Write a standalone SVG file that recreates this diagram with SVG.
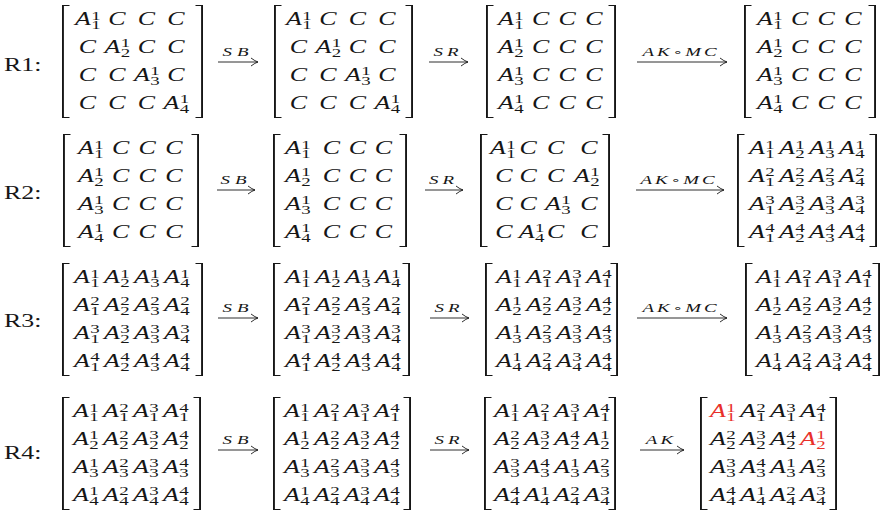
<svg xmlns="http://www.w3.org/2000/svg" width="883" height="519" viewBox="0 0 883 519">
<style>
text{font-family:"Liberation Serif","Times New Roman",serif;fill:#161616}
.m{font-size:18.5px;font-style:italic}
.s{font-size:13.5px;font-style:normal}
.lb{font-size:18.5px}
.op{font-size:13.5px;font-style:italic}
.ring{font-style:normal;font-family:"DejaVu Sans",sans-serif;font-size:11px}
.red{fill:#e8302a}
.ln{stroke:#161616;stroke-width:0.9;fill:none}
</style>
<defs>
<path id="lb" fill="#161616" d="M7.5,-20H0V93H7.5V92H1.9V-19H7.5Z"/>
<path id="rb" fill="#161616" d="M-7.5,-20H0V93H-7.5V92H-1.9V-19H-7.5Z"/>
<marker id="ah" viewBox="0 0 10 10" refX="9.6" refY="5" markerWidth="10" markerHeight="10" markerUnits="userSpaceOnUse" orient="auto"><path d="M2.6,1 Q6.8,4.2 9.6,5 Q6.8,5.8 2.6,9" fill="none" stroke="#161616" stroke-width="0.9"/></marker>
</defs>

<g id="label-r1"><text class="lb" transform="translate(4,71) scale(1.4,1)">R1:</text></g>
<g id="label-r2"><text class="lb" transform="translate(4,199) scale(1.4,1)">R2:</text></g>
<g id="label-r3"><text class="lb" transform="translate(4,327) scale(1.4,1)">R3:</text></g>
<g id="label-r4"><text class="lb" transform="translate(4,459) scale(1.4,1)">R4:</text></g>

<!-- R1 -->
<g id="r1m1" transform="translate(75,25)"><use href="#lb" x="-13"/><use href="#rb" x="128"/>
<g class="m" transform="scale(1.4,1)">
<text x="0 11.6 11.6 23.7 44.8 65.9" y="0 4 -5.5 0 0 0">A<tspan class="s">11</tspan>CCC</text>
<text x="2.6 21.1 32.7 32.7 44.8 65.9" y="28 28 32 22.5 28 28">CA<tspan class="s">21</tspan>CC</text>
<text x="2.6 23.7 42.1 53.7 53.7 65.9" y="56 56 56 60 50.5 56">CCA<tspan class="s">31</tspan>C</text>
<text x="2.6 23.7 44.8 63.2 74.8 74.8" y="84 84 84 84 88 78.5">CCCA<tspan class="s">41</tspan></text>
</g></g>
<g id="r1m2" transform="translate(286,25)"><use href="#lb" x="-12"/><use href="#rb" x="127"/>
<g class="m" transform="scale(1.4,1)">
<text x="0 11.6 11.6 23.7 44.8 65.9" y="0 4 -5.5 0 0 0">A<tspan class="s">11</tspan>CCC</text>
<text x="2.6 21.1 32.7 32.7 44.8 65.9" y="28 28 32 22.5 28 28">CA<tspan class="s">21</tspan>CC</text>
<text x="2.6 23.7 42.1 53.7 53.7 65.9" y="56 56 56 60 50.5 56">CCA<tspan class="s">31</tspan>C</text>
<text x="2.6 23.7 44.8 63.2 74.8 74.8" y="84 84 84 84 88 78.5">CCCA<tspan class="s">41</tspan></text>
</g></g>
<g id="r1m3" transform="translate(498,25)"><use href="#lb" x="-12"/><use href="#rb" x="118"/>
<g class="m" transform="scale(1.4,1)">
<text x="0 11.6 11.6 24.2 43.2 62.3" y="0 4 -5.5 0 0 0">A<tspan class="s">11</tspan>CCC</text>
<text x="0 11.6 11.6 24.2 43.2 62.3" y="28 32 22.5 28 28 28">A<tspan class="s">21</tspan>CCC</text>
<text x="0 11.6 11.6 24.2 43.2 62.3" y="56 60 50.5 56 56 56">A<tspan class="s">31</tspan>CCC</text>
<text x="0 11.6 11.6 24.2 43.2 62.3" y="84 88 78.5 84 84 84">A<tspan class="s">41</tspan>CCC</text>
</g></g>
<g id="r1m4" transform="translate(757,25)"><use href="#lb" x="-13"/><use href="#rb" x="119"/>
<g class="m" transform="scale(1.4,1)">
<text x="0 11.6 11.6 24.2 43.2 62.3" y="0 4 -5.5 0 0 0">A<tspan class="s">11</tspan>CCC</text>
<text x="0 11.6 11.6 24.2 43.2 62.3" y="28 32 22.5 28 28 28">A<tspan class="s">21</tspan>CCC</text>
<text x="0 11.6 11.6 24.2 43.2 62.3" y="56 60 50.5 56 56 56">A<tspan class="s">31</tspan>CCC</text>
<text x="0 11.6 11.6 24.2 43.2 62.3" y="84 88 78.5 84 84 84">A<tspan class="s">41</tspan>CCC</text>
</g></g>

<!-- R2 -->
<g id="r2m1" transform="translate(78,154)"><use href="#lb" x="-15"/><use href="#rb" x="121"/>
<g class="m" transform="scale(1.4,1)">
<text x="0 11.6 11.6 24.2 43.2 62.3" y="0 4 -5.5 0 0 0">A<tspan class="s">11</tspan>CCC</text>
<text x="0 11.6 11.6 24.2 43.2 62.3" y="28 32 22.5 28 28 28">A<tspan class="s">21</tspan>CCC</text>
<text x="0 11.6 11.6 24.2 43.2 62.3" y="56 60 50.5 56 56 56">A<tspan class="s">31</tspan>CCC</text>
<text x="0 11.6 11.6 24.2 43.2 62.3" y="84 88 78.5 84 84 84">A<tspan class="s">41</tspan>CCC</text>
</g></g>
<g id="r2m2" transform="translate(285,154)"><use href="#lb" x="-12"/><use href="#rb" x="122"/>
<g class="m" transform="scale(1.4,1)">
<text x="0 11.6 11.6 27 45.6 64.2" y="0 4 -5.5 0 0 0">A<tspan class="s">11</tspan>CCC</text>
<text x="0 11.6 11.6 27 45.6 64.2" y="28 32 22.5 28 28 28">A<tspan class="s">21</tspan>CCC</text>
<text x="0 11.6 11.6 27 45.6 64.2" y="56 60 50.5 56 56 56">A<tspan class="s">31</tspan>CCC</text>
<text x="0 11.6 11.6 27 45.6 64.2" y="84 88 78.5 84 84 84">A<tspan class="s">41</tspan>CCC</text>
</g></g>
<g id="r2m3" transform="translate(490,154)"><use href="#lb" x="-10"/><use href="#rb" x="120"/>
<g class="m" transform="scale(1.4,1)">
<text x="0 11.6 11.6 21 40.8 64.4" y="0 4 -5.5 0 0 0">A<tspan class="s">11</tspan>CCC</text>
<text x="3.7 21 40.8 60 71.6 71.6" y="28 28 28 28 32 22.5">CCCA<tspan class="s">21</tspan></text>
<text x="3.7 21 39.3 50.9 50.9 64.4" y="56 56 56 60 50.5 56">CCA<tspan class="s">31</tspan>C</text>
<text x="3.7 20.5 32.1 32.1 40.8 64.4" y="84 84 88 78.5 84 84">CA<tspan class="s">41</tspan>CC</text>
</g></g>
<g id="r2m4" transform="translate(749,154)"><use href="#lb" x="-12"/><use href="#rb" x="128"/>
<g class="m" transform="scale(1.4,1)">
<text x="0 11.6 11.6 21.4 33 33 42.9 54.5 54.5 64.3 75.9 75.9" y="0 4 -5.5 0 4 -5.5 0 4 -5.5 0 4 -5.5">A<tspan class="s">11</tspan>A<tspan class="s">21</tspan>A<tspan class="s">31</tspan>A<tspan class="s">41</tspan></text>
<text x="0 11.6 11.6 21.4 33 33 42.9 54.5 54.5 64.3 75.9 75.9" y="28 32 22.5 28 32 22.5 28 32 22.5 28 32 22.5">A<tspan class="s">12</tspan>A<tspan class="s">22</tspan>A<tspan class="s">32</tspan>A<tspan class="s">42</tspan></text>
<text x="0 11.6 11.6 21.4 33 33 42.9 54.5 54.5 64.3 75.9 75.9" y="56 60 50.5 56 60 50.5 56 60 50.5 56 60 50.5">A<tspan class="s">13</tspan>A<tspan class="s">23</tspan>A<tspan class="s">33</tspan>A<tspan class="s">43</tspan></text>
<text x="0 11.6 11.6 21.4 33 33 42.9 54.5 54.5 64.3 75.9 75.9" y="84 88 78.5 84 88 78.5 84 88 78.5 84 88 78.5">A<tspan class="s">14</tspan>A<tspan class="s">24</tspan>A<tspan class="s">34</tspan>A<tspan class="s">44</tspan></text>
</g></g>

<!-- R3 -->
<g id="r3m1" transform="translate(74,283)"><use href="#lb" x="-12"/><use href="#rb" x="129"/>
<g class="m" transform="scale(1.4,1)">
<text x="0 11.6 11.6 21.4 33 33 42.9 54.5 54.5 64.3 75.9 75.9" y="0 4 -5.5 0 4 -5.5 0 4 -5.5 0 4 -5.5">A<tspan class="s">11</tspan>A<tspan class="s">21</tspan>A<tspan class="s">31</tspan>A<tspan class="s">41</tspan></text>
<text x="0 11.6 11.6 21.4 33 33 42.9 54.5 54.5 64.3 75.9 75.9" y="28 32 22.5 28 32 22.5 28 32 22.5 28 32 22.5">A<tspan class="s">12</tspan>A<tspan class="s">22</tspan>A<tspan class="s">32</tspan>A<tspan class="s">42</tspan></text>
<text x="0 11.6 11.6 21.4 33 33 42.9 54.5 54.5 64.3 75.9 75.9" y="56 60 50.5 56 60 50.5 56 60 50.5 56 60 50.5">A<tspan class="s">13</tspan>A<tspan class="s">23</tspan>A<tspan class="s">33</tspan>A<tspan class="s">43</tspan></text>
<text x="0 11.6 11.6 21.4 33 33 42.9 54.5 54.5 64.3 75.9 75.9" y="84 88 78.5 84 88 78.5 84 88 78.5 84 88 78.5">A<tspan class="s">14</tspan>A<tspan class="s">24</tspan>A<tspan class="s">34</tspan>A<tspan class="s">44</tspan></text>
</g></g>
<g id="r3m2" transform="translate(285,283)"><use href="#lb" x="-12"/><use href="#rb" x="125"/>
<g class="m" transform="scale(1.4,1)">
<text x="0 11.6 11.6 21.4 33 33 42.9 54.5 54.5 64.3 75.9 75.9" y="0 4 -5.5 0 4 -5.5 0 4 -5.5 0 4 -5.5">A<tspan class="s">11</tspan>A<tspan class="s">21</tspan>A<tspan class="s">31</tspan>A<tspan class="s">41</tspan></text>
<text x="0 11.6 11.6 21.4 33 33 42.9 54.5 54.5 64.3 75.9 75.9" y="28 32 22.5 28 32 22.5 28 32 22.5 28 32 22.5">A<tspan class="s">12</tspan>A<tspan class="s">22</tspan>A<tspan class="s">32</tspan>A<tspan class="s">42</tspan></text>
<text x="0 11.6 11.6 21.4 33 33 42.9 54.5 54.5 64.3 75.9 75.9" y="56 60 50.5 56 60 50.5 56 60 50.5 56 60 50.5">A<tspan class="s">13</tspan>A<tspan class="s">23</tspan>A<tspan class="s">33</tspan>A<tspan class="s">43</tspan></text>
<text x="0 11.6 11.6 21.4 33 33 42.9 54.5 54.5 64.3 75.9 75.9" y="84 88 78.5 84 88 78.5 84 88 78.5 84 88 78.5">A<tspan class="s">14</tspan>A<tspan class="s">24</tspan>A<tspan class="s">34</tspan>A<tspan class="s">44</tspan></text>
</g></g>
<g id="r3m3" transform="translate(496,283)"><use href="#lb" x="-11"/><use href="#rb" x="122"/>
<g class="m" transform="scale(1.4,1)">
<text x="0 11.6 11.6 21.4 33 33 42.9 54.5 54.5 64.3 75.9 75.9" y="0 4 -5.5 0 4 -5.5 0 4 -5.5 0 4 -5.5">A<tspan class="s">11</tspan>A<tspan class="s">12</tspan>A<tspan class="s">13</tspan>A<tspan class="s">14</tspan></text>
<text x="0 11.6 11.6 21.4 33 33 42.9 54.5 54.5 64.3 75.9 75.9" y="28 32 22.5 28 32 22.5 28 32 22.5 28 32 22.5">A<tspan class="s">21</tspan>A<tspan class="s">22</tspan>A<tspan class="s">23</tspan>A<tspan class="s">24</tspan></text>
<text x="0 11.6 11.6 21.4 33 33 42.9 54.5 54.5 64.3 75.9 75.9" y="56 60 50.5 56 60 50.5 56 60 50.5 56 60 50.5">A<tspan class="s">31</tspan>A<tspan class="s">32</tspan>A<tspan class="s">33</tspan>A<tspan class="s">34</tspan></text>
<text x="0 11.6 11.6 21.4 33 33 42.9 54.5 54.5 64.3 75.9 75.9" y="84 88 78.5 84 88 78.5 84 88 78.5 84 88 78.5">A<tspan class="s">41</tspan>A<tspan class="s">42</tspan>A<tspan class="s">43</tspan>A<tspan class="s">44</tspan></text>
</g></g>
<g id="r3m4" transform="translate(756,283)"><use href="#lb" x="-11"/><use href="#rb" x="124"/>
<g class="m" transform="scale(1.4,1)">
<text x="0 11.6 11.6 21.4 33 33 42.9 54.5 54.5 64.3 75.9 75.9" y="0 4 -5.5 0 4 -5.5 0 4 -5.5 0 4 -5.5">A<tspan class="s">11</tspan>A<tspan class="s">12</tspan>A<tspan class="s">13</tspan>A<tspan class="s">14</tspan></text>
<text x="0 11.6 11.6 21.4 33 33 42.9 54.5 54.5 64.3 75.9 75.9" y="28 32 22.5 28 32 22.5 28 32 22.5 28 32 22.5">A<tspan class="s">21</tspan>A<tspan class="s">22</tspan>A<tspan class="s">23</tspan>A<tspan class="s">24</tspan></text>
<text x="0 11.6 11.6 21.4 33 33 42.9 54.5 54.5 64.3 75.9 75.9" y="56 60 50.5 56 60 50.5 56 60 50.5 56 60 50.5">A<tspan class="s">31</tspan>A<tspan class="s">32</tspan>A<tspan class="s">33</tspan>A<tspan class="s">34</tspan></text>
<text x="0 11.6 11.6 21.4 33 33 42.9 54.5 54.5 64.3 75.9 75.9" y="84 88 78.5 84 88 78.5 84 88 78.5 84 88 78.5">A<tspan class="s">41</tspan>A<tspan class="s">42</tspan>A<tspan class="s">43</tspan>A<tspan class="s">44</tspan></text>
</g></g>

<!-- R4 -->
<g id="r4m1" transform="translate(73,417)"><use href="#lb" x="-11"/><use href="#rb" x="128"/>
<g class="m" transform="scale(1.4,1)">
<text x="0 11.6 11.6 21.4 33 33 42.9 54.5 54.5 64.3 75.9 75.9" y="0 4 -5.5 0 4 -5.5 0 4 -5.5 0 4 -5.5">A<tspan class="s">11</tspan>A<tspan class="s">12</tspan>A<tspan class="s">13</tspan>A<tspan class="s">14</tspan></text>
<text x="0 11.6 11.6 21.4 33 33 42.9 54.5 54.5 64.3 75.9 75.9" y="28 32 22.5 28 32 22.5 28 32 22.5 28 32 22.5">A<tspan class="s">21</tspan>A<tspan class="s">22</tspan>A<tspan class="s">23</tspan>A<tspan class="s">24</tspan></text>
<text x="0 11.6 11.6 21.4 33 33 42.9 54.5 54.5 64.3 75.9 75.9" y="56 60 50.5 56 60 50.5 56 60 50.5 56 60 50.5">A<tspan class="s">31</tspan>A<tspan class="s">32</tspan>A<tspan class="s">33</tspan>A<tspan class="s">34</tspan></text>
<text x="0 11.6 11.6 21.4 33 33 42.9 54.5 54.5 64.3 75.9 75.9" y="84 88 78.5 84 88 78.5 84 88 78.5 84 88 78.5">A<tspan class="s">41</tspan>A<tspan class="s">42</tspan>A<tspan class="s">43</tspan>A<tspan class="s">44</tspan></text>
</g></g>
<g id="r4m2" transform="translate(284,417)"><use href="#lb" x="-11"/><use href="#rb" x="127"/>
<g class="m" transform="scale(1.4,1)">
<text x="0 11.6 11.6 21.4 33 33 42.9 54.5 54.5 64.3 75.9 75.9" y="0 4 -5.5 0 4 -5.5 0 4 -5.5 0 4 -5.5">A<tspan class="s">11</tspan>A<tspan class="s">12</tspan>A<tspan class="s">13</tspan>A<tspan class="s">14</tspan></text>
<text x="0 11.6 11.6 21.4 33 33 42.9 54.5 54.5 64.3 75.9 75.9" y="28 32 22.5 28 32 22.5 28 32 22.5 28 32 22.5">A<tspan class="s">21</tspan>A<tspan class="s">22</tspan>A<tspan class="s">23</tspan>A<tspan class="s">24</tspan></text>
<text x="0 11.6 11.6 21.4 33 33 42.9 54.5 54.5 64.3 75.9 75.9" y="56 60 50.5 56 60 50.5 56 60 50.5 56 60 50.5">A<tspan class="s">31</tspan>A<tspan class="s">32</tspan>A<tspan class="s">33</tspan>A<tspan class="s">34</tspan></text>
<text x="0 11.6 11.6 21.4 33 33 42.9 54.5 54.5 64.3 75.9 75.9" y="84 88 78.5 84 88 78.5 84 88 78.5 84 88 78.5">A<tspan class="s">41</tspan>A<tspan class="s">42</tspan>A<tspan class="s">43</tspan>A<tspan class="s">44</tspan></text>
</g></g>
<g id="r4m3" transform="translate(494,417)"><use href="#lb" x="-10"/><use href="#rb" x="122"/>
<g class="m" transform="scale(1.4,1)">
<text x="0 11.6 11.6 21.4 33 33 42.9 54.5 54.5 64.3 75.9 75.9" y="0 4 -5.5 0 4 -5.5 0 4 -5.5 0 4 -5.5">A<tspan class="s">11</tspan>A<tspan class="s">12</tspan>A<tspan class="s">13</tspan>A<tspan class="s">14</tspan></text>
<text x="0 11.6 11.6 21.4 33 33 42.9 54.5 54.5 64.3 75.9 75.9" y="28 32 22.5 28 32 22.5 28 32 22.5 28 32 22.5">A<tspan class="s">22</tspan>A<tspan class="s">23</tspan>A<tspan class="s">24</tspan>A<tspan class="s">21</tspan></text>
<text x="0 11.6 11.6 21.4 33 33 42.9 54.5 54.5 64.3 75.9 75.9" y="56 60 50.5 56 60 50.5 56 60 50.5 56 60 50.5">A<tspan class="s">33</tspan>A<tspan class="s">34</tspan>A<tspan class="s">31</tspan>A<tspan class="s">32</tspan></text>
<text x="0 11.6 11.6 21.4 33 33 42.9 54.5 54.5 64.3 75.9 75.9" y="84 88 78.5 84 88 78.5 84 88 78.5 84 88 78.5">A<tspan class="s">44</tspan>A<tspan class="s">41</tspan>A<tspan class="s">42</tspan>A<tspan class="s">43</tspan></text>
</g></g>
<g id="r4m4" transform="translate(710,417)"><use href="#lb" x="-10"/><use href="#rb" x="127"/>
<g class="m" transform="scale(1.4,1)">
<text x="0 11.6 11.6 21.4 33 33 42.9 54.5 54.5 64.3 75.9 75.9" y="0 4 -5.5 0 4 -5.5 0 4 -5.5 0 4 -5.5"><tspan class="red">A</tspan><tspan class="s red">11</tspan>A<tspan class="s">12</tspan>A<tspan class="s">13</tspan>A<tspan class="s">14</tspan></text>
<text x="0 11.6 11.6 21.4 33 33 42.9 54.5 54.5 64.3 75.9 75.9" y="28 32 22.5 28 32 22.5 28 32 22.5 28 32 22.5">A<tspan class="s">22</tspan>A<tspan class="s">23</tspan>A<tspan class="s">24</tspan><tspan class="red">A</tspan><tspan class="s red">21</tspan></text>
<text x="0 11.6 11.6 21.4 33 33 42.9 54.5 54.5 64.3 75.9 75.9" y="56 60 50.5 56 60 50.5 56 60 50.5 56 60 50.5">A<tspan class="s">33</tspan>A<tspan class="s">34</tspan>A<tspan class="s">31</tspan>A<tspan class="s">32</tspan></text>
<text x="0 11.6 11.6 21.4 33 33 42.9 54.5 54.5 64.3 75.9 75.9" y="84 88 78.5 84 88 78.5 84 88 78.5 84 88 78.5">A<tspan class="s">44</tspan>A<tspan class="s">41</tspan>A<tspan class="s">42</tspan>A<tspan class="s">43</tspan></text>
</g></g>

<g id="connectors">
<line class="ln" x1="218" y1="62" x2="258" y2="62" marker-end="url(#ah)"/>
<text class="op" text-anchor="middle" textLength="18.5" lengthAdjust="spacing" transform="translate(235.5,56) scale(1.4,1)">SB</text>
<line class="ln" x1="429" y1="62" x2="468" y2="62" marker-end="url(#ah)"/>
<text class="op" text-anchor="middle" textLength="18" lengthAdjust="spacing" transform="translate(446,56) scale(1.4,1)">SR</text>
<line class="ln" x1="637" y1="62" x2="727" y2="62" marker-end="url(#ah)"/>
<text class="op" text-anchor="middle" textLength="53" lengthAdjust="spacing" transform="translate(679.5,56) scale(1.4,1)">AK<tspan class="ring">∘</tspan>MC</text>

<line class="ln" x1="217" y1="190" x2="255" y2="190" marker-end="url(#ah)"/>
<text class="op" text-anchor="middle" textLength="18.5" lengthAdjust="spacing" transform="translate(233.5,184) scale(1.4,1)">SB</text>
<line class="ln" x1="425" y1="190" x2="463" y2="190" marker-end="url(#ah)"/>
<text class="op" text-anchor="middle" textLength="18" lengthAdjust="spacing" transform="translate(441.5,184) scale(1.4,1)">SR</text>
<line class="ln" x1="636" y1="190" x2="724" y2="190" marker-end="url(#ah)"/>
<text class="op" text-anchor="middle" textLength="53" lengthAdjust="spacing" transform="translate(677.5,184) scale(1.4,1)">AK<tspan class="ring">∘</tspan>MC</text>

<line class="ln" x1="218" y1="318" x2="258" y2="318" marker-end="url(#ah)"/>
<text class="op" text-anchor="middle" textLength="18.5" lengthAdjust="spacing" transform="translate(235.5,312) scale(1.4,1)">SB</text>
<line class="ln" x1="430" y1="318" x2="469" y2="318" marker-end="url(#ah)"/>
<text class="op" text-anchor="middle" textLength="18" lengthAdjust="spacing" transform="translate(447,312) scale(1.4,1)">SR</text>
<line class="ln" x1="637" y1="318" x2="727" y2="318" marker-end="url(#ah)"/>
<text class="op" text-anchor="middle" textLength="53" lengthAdjust="spacing" transform="translate(679.5,312) scale(1.4,1)">AK<tspan class="ring">∘</tspan>MC</text>

<line class="ln" x1="218" y1="450" x2="258" y2="450" marker-end="url(#ah)"/>
<text class="op" text-anchor="middle" textLength="18.5" lengthAdjust="spacing" transform="translate(235.5,444) scale(1.4,1)">SB</text>
<line class="ln" x1="430" y1="450" x2="469" y2="450" marker-end="url(#ah)"/>
<text class="op" text-anchor="middle" textLength="18" lengthAdjust="spacing" transform="translate(447,444) scale(1.4,1)">SR</text>
<line class="ln" x1="640" y1="450" x2="684" y2="450" marker-end="url(#ah)"/>
<text class="op" text-anchor="middle" textLength="19.5" lengthAdjust="spacing" transform="translate(659.5,444) scale(1.4,1)">AK</text>
</g>
</svg>
